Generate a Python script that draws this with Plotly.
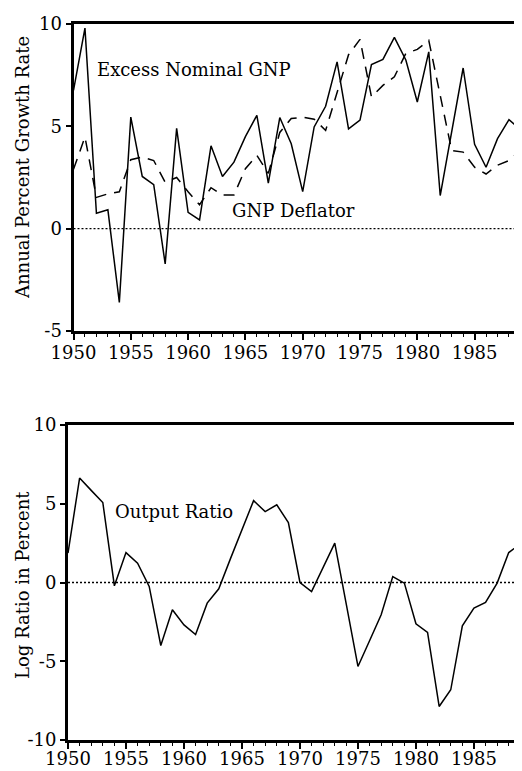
import plotly.graph_objects as go

# ---------------- data ----------------
years = list(range(1950, 1990))

excess_nominal_gnp = [6.76, 9.8, 0.75, 0.92, -3.6, 5.45, 2.55, 2.15, -1.72, 4.9,
                      0.8, 0.43, 4.05, 2.55, 3.25, 4.5, 5.54, 2.22, 5.43, 4.15,
                      1.81, 4.97, 5.98, 8.15, 4.88, 5.3, 8.02, 8.27, 9.35, 8.24,
                      6.19, 8.64, 1.62, 4.7, 7.85, 4.12, 3.0, 4.4, 5.33, 4.84]

gnp_deflator = [2.9, 4.48, 1.53, 1.7, 1.8, 3.37, 3.5, 3.33, 2.27, 2.5,
                1.8, 1.17, 2.0, 1.64, 1.64, 2.93, 3.58, 2.7, 4.7, 5.38,
                5.45, 5.35, 4.8, 6.7, 8.5, 9.25, 6.44, 7.0, 7.42, 8.56,
                8.76, 9.2, 6.5, 3.82, 3.74, 3.0, 2.67, 3.1, 3.33, 3.82]

output_ratio = [1.87, 6.63, 5.85, 5.08, -0.21, 1.9, 1.23, -0.25, -4.0, -1.73,
                -2.69, -3.3, -1.31, -0.4, 1.5, 3.35, 5.2, 4.5, 4.93, 3.81,
                0.0, -0.57, 0.97, 2.5, -1.4, -5.33, -3.7, -2.05, 0.38, -0.04,
                -2.62, -3.17, -7.87, -6.81, -2.75, -1.63, -1.27, -0.04, 1.9, 2.46]

x_tick_vals = [1950, 1955, 1960, 1965, 1970, 1975, 1980, 1985]
top_y_ticks = [-5, 0, 5, 10]
top_y_labels = ["-5", "0", "5", "10"]
bottom_y_ticks = [-10, -5, 0, 5, 10]
bottom_y_labels = ["-10", "-5", "0", "5", "10"]

# ---------------- layout helpers ----------------
# The page body has an 8px margin, so the figure is drawn 8px in from the
# top-left corner of the window; size it so it ends at the window edge.
OFF = 8
W, H = 522 - OFF, 771 - OFF
FONT = "DejaVu Serif"


def px(x):
    return (x - OFF) / W


def py(y):
    return (H - (y - OFF)) / H


fig = go.Figure()

fig.add_trace(go.Scatter(x=years, y=gnp_deflator, mode="lines",
                         line=dict(color="black", width=1.5, dash="11px,8px"),
                         xaxis="x", yaxis="y", showlegend=False))
fig.add_trace(go.Scatter(x=years, y=excess_nominal_gnp, mode="lines",
                         line=dict(color="black", width=1.5),
                         xaxis="x", yaxis="y", showlegend=False))
fig.add_trace(go.Scatter(x=years, y=output_ratio, mode="lines",
                         line=dict(color="black", width=1.5),
                         xaxis="x2", yaxis="y2", showlegend=False))

tickfont = dict(family=FONT, size=18, color="black")

xcommon = dict(tickmode="array", tickvals=x_tick_vals, ticks="outside",
               ticklen=6, tickwidth=1.5, tickcolor="black",
               minor=dict(dtick=1, ticks="outside", ticklen=3, tickwidth=1,
                          tickcolor="black", tick0=1950, showgrid=False),
               showgrid=False, zeroline=False, showline=True,
               linecolor="black", linewidth=2.5, mirror=True,
               tickfont=tickfont, automargin=False)

ycommon = dict(tickmode="array", ticks="outside", ticklen=5, tickwidth=1.5,
               tickcolor="black", showgrid=False, zeroline=False,
               showline=True, linecolor="black", linewidth=3,
               tickfont=tickfont, automargin=False)

x1_range = [1950, 1950 + (522 - 73.5) / 11.46]
x2_range = [1950, 1989.1]

fig.update_layout(
    template="none",
    width=W, height=H, autosize=False,
    margin=dict(l=0, r=0, t=0, b=0, pad=0, autoexpand=False),
    paper_bgcolor="white", plot_bgcolor="white",
    xaxis=dict(domain=[px(73.5), 1.0], range=x1_range, anchor="y",
               ticklabelstandoff=-2, **xcommon),
    yaxis=dict(domain=[py(331), py(24)], range=[-5, 10], anchor="x",
               tickvals=top_y_ticks, ticktext=top_y_labels, mirror=False,
               **ycommon),
    xaxis2=dict(domain=[px(68), px(521.5)], range=x2_range, anchor="y2",
                ticklabelstandoff=-5, **xcommon),
    yaxis2=dict(domain=[py(740), py(425)], range=[-10, 10], anchor="x2",
                tickvals=bottom_y_ticks, ticktext=bottom_y_labels, mirror=True,
                **ycommon),
)

# dotted zero lines
fig.add_shape(type="line", xref="x", yref="y", x0=x1_range[0], x1=x1_range[1],
              y0=0, y1=0, line=dict(color="black", width=1.3, dash="2px,2px"))
fig.add_shape(type="line", xref="x2", yref="y2", x0=x2_range[0], x1=x2_range[1],
              y0=0, y1=0, line=dict(color="black", width=1.3, dash="2px,2px"))

annfont = dict(family=FONT, size=18, color="black")


def label(text, x, y, angle=0):
    fig.add_annotation(text=text, x=px(x), y=py(y), xref="paper", yref="paper",
                       xanchor="center", yanchor="middle", showarrow=False,
                       font=annfont, textangle=angle)


label("Excess Nominal GNP", 194, 69)
label("GNP Deflator", 293.5, 211)
label("Output Ratio", 173.5, 511)
label("Annual Percent Growth Rate", 22, 168, -90)
label("Log Ratio in Percent", 22, 585, -90)

fig.write_html("out.html")
